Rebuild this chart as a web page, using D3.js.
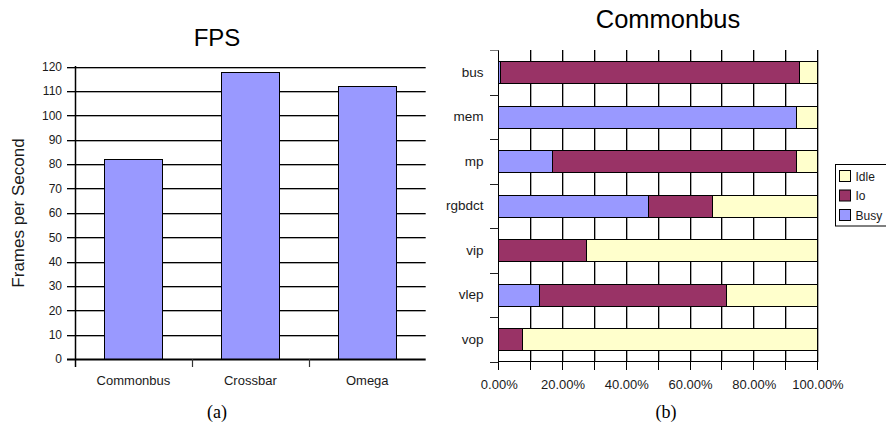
<!DOCTYPE html>
<html>
<head>
<meta charset="utf-8">
<script src="https://cdn.jsdelivr.net/npm/d3@7"></script>
<style>
  body { margin: 0; background: #fff; }
  svg { display: block; font-family: "Liberation Sans", Arial, sans-serif; }
  .domain { display: none; }
</style>
</head>
<body>
<div id="chart"></div>
<script>
// (a) frames per second
const systems = ["Commonbus", "Crossbar", "Omega"];
const fps = [82, 118, 112];
const fpsTicks = [0, 10, 20, 30, 40, 50, 60, 70, 80, 90, 100, 110, 120];

// (b) Commonbus utilisation, percent
const components = ["bus", "mem", "mp", "rgbdct", "vip", "vlep", "vop"];
const busy = [0.6, 93.5, 17.0, 47.0, 0, 12.9, 0];
const io = [93.6, 0, 76.3, 20.0, 27.5, 58.7, 7.5];
const idle = [5.8, 6.5, 6.7, 33.0, 72.5, 28.4, 92.5];
const pctTicks = [0, 20, 40, 60, 80, 100];
const gridTicks = [0, 10, 20, 30, 40, 50, 60, 70, 80, 90, 100];
const keys = ["Busy", "Io", "Idle"];
const colors = {Busy: "#9999ff", Io: "#993366", Idle: "#ffffcc"};

const svg = d3.select("#chart").append("svg")
  .attr("width", 886)
  .attr("height", 425);

const textColor = "#1a1a1a";

// ---------- left chart ----------
const x1 = d3.scaleBand()
  .domain(systems)
  .range([75, 425.7])
  .paddingInner(0.5)
  .paddingOuter(0.25);
const y1 = d3.scaleLinear()
  .domain([0, 120])
  .range([359, 66.7]);

const left = svg.append("g");

// gridlines with a grey shadow
left.selectAll(".gs")
  .data(fpsTicks.slice(1))
  .join("line")
  .attr("x1", 67).attr("x2", 425.7)
  .attr("y1", d => Math.round(y1(d)) + 1.5).attr("y2", d => Math.round(y1(d)) + 1.5)
  .attr("stroke", "#aaa");
left.selectAll(".g")
  .data(fpsTicks.slice(1))
  .join("line")
  .attr("x1", 67).attr("x2", 425.7)
  .attr("y1", d => Math.round(y1(d)) + 0.5).attr("y2", d => Math.round(y1(d)) + 0.5)
  .attr("stroke", "#000");

left.selectAll(".bar")
  .data(systems)
  .join("rect")
  .attr("x", d => Math.round(x1(d)) + 0.5)
  .attr("y", (d, i) => Math.round(y1(fps[i])) + 0.5)
  .attr("width", Math.round(x1.bandwidth()))
  .attr("height", (d, i) => Math.round(y1(0)) - Math.round(y1(fps[i])))
  .attr("fill", "#9999ff")
  .attr("stroke", "#000");

// axes lines
left.append("line")
  .attr("x1", 75.5).attr("x2", 75.5)
  .attr("y1", 66).attr("y2", 367)
  .attr("stroke", "#000").attr("stroke-width", 1.5);
left.append("line")
  .attr("x1", 67).attr("x2", 425.7)
  .attr("y1", 359.5).attr("y2", 359.5)
  .attr("stroke", "#000").attr("stroke-width", 2);
// category boundary ticks
left.selectAll(".xt")
  .data(systems.slice(1))
  .join("line")
  .attr("x1", d => Math.round(x1(d) - x1.step() * 0.25) + 0.5)
  .attr("x2", d => Math.round(x1(d) - x1.step() * 0.25) + 0.5)
  .attr("y1", 359).attr("y2", 367)
  .attr("stroke", "#333").attr("stroke-width", 1.2);

left.append("g")
  .attr("transform", "translate(67,0)")
  .call(d3.axisLeft(y1).tickValues(fpsTicks).tickSize(0).tickPadding(5))
  .call(g => g.selectAll("text")
    .attr("fill", textColor)
    .style("font-size", "12px")
    .style("font-family", "Liberation Sans, Arial, sans-serif"));

left.append("g")
  .attr("transform", "translate(0,359)")
  .call(d3.axisBottom(x1).tickSize(0).tickPadding(17))
  .call(g => g.selectAll("text")
    .attr("fill", textColor)
    .style("font-size", "13px")
    .style("font-family", "Liberation Sans, Arial, sans-serif"));

left.append("text")
  .attr("x", 217).attr("y", 46)
  .attr("text-anchor", "middle")
  .attr("fill", "#000")
  .style("font-size", "24px")
  .text("FPS");

left.append("text")
  .attr("transform", "translate(24,213) rotate(-90)")
  .attr("text-anchor", "middle")
  .attr("fill", textColor)
  .style("font-size", "17px")
  .text("Frames per Second");

left.append("text")
  .attr("x", 217).attr("y", 418)
  .attr("text-anchor", "middle")
  .attr("fill", "#000")
  .style("font-family", "Liberation Serif, Times New Roman, serif")
  .style("font-size", "18px")
  .text("(a)");

// ---------- right chart ----------
const x2 = d3.scaleLinear()
  .domain([0, 100])
  .range([498.3, 817]);
const y2 = d3.scaleBand()
  .domain(components)
  .range([50, 361.7])
  .paddingInner(0.5)
  .paddingOuter(0.25);

const right = svg.append("g");

// vertical grid with shadow
right.selectAll(".vs")
  .data(gridTicks.slice(1))
  .join("line")
  .attr("x1", d => Math.round(x2(d)) + 1.5).attr("x2", d => Math.round(x2(d)) + 1.5)
  .attr("y1", 50).attr("y2", 362)
  .attr("stroke", "#aaa");
right.selectAll(".v")
  .data(gridTicks)
  .join("line")
  .attr("x1", d => Math.round(x2(d)) + 0.5).attr("x2", d => Math.round(x2(d)) + 0.5)
  .attr("y1", 50).attr("y2", 370)
  .attr("stroke", "#000");

// band boundary ticks on the left
const step2 = y2.step();
right.selectAll(".yt")
  .data(components.concat(["end"]))
  .join("line")
  .attr("x1", 490).attr("x2", 498.5)
  .attr("y1", (d, i) => Math.round(50 + i * step2) + 0.5)
  .attr("y2", (d, i) => Math.round(50 + i * step2) + 0.5)
  .attr("stroke", (d, i) => i === 0 ? "#777" : "#222");

right.append("line")
  .attr("x1", 498.3).attr("x2", 817.5)
  .attr("y1", 361.5).attr("y2", 361.5)
  .attr("stroke", "#000");

const table = components.map((c, i) => ({c, Busy: busy[i], Io: io[i], Idle: idle[i]}));
const series = d3.stack().keys(keys)(table);

right.selectAll(".layer")
  .data(series)
  .join("g")
  .attr("fill", d => colors[d.key])
  .selectAll("rect")
  .data(d => d.filter(s => s[1] - s[0] > 0))
  .join("rect")
  .attr("x", d => Math.round(x2(d[0])) + 0.5)
  .attr("y", d => Math.round(y2(d.data.c)) + 0.5)
  .attr("width", d => Math.round(x2(d[1])) - Math.round(x2(d[0])))
  .attr("height", Math.round(y2.bandwidth()))
  .attr("stroke", "#000");

right.append("g")
  .attr("transform", "translate(483.5,0)")
  .call(d3.axisLeft(y2).tickSize(0).tickPadding(0))
  .call(g => g.selectAll("text")
    .attr("fill", textColor)
    .style("font-size", "13.5px")
    .style("font-family", "Liberation Sans, Arial, sans-serif"));

right.append("g")
  .attr("transform", "translate(0.5,361)")
  .call(d3.axisBottom(x2).tickValues(pctTicks).tickSize(0).tickPadding(19)
    .tickFormat(d => d.toFixed(2) + "%"))
  .call(g => g.selectAll("text")
    .attr("fill", textColor)
    .style("font-size", "13px")
    .style("font-family", "Liberation Sans, Arial, sans-serif"));

right.append("text")
  .attr("x", 668).attr("y", 28)
  .attr("text-anchor", "middle")
  .attr("fill", "#000")
  .style("font-size", "25.5px")
  .text("Commonbus");

right.append("text")
  .attr("x", 666).attr("y", 418)
  .attr("text-anchor", "middle")
  .attr("fill", "#000")
  .style("font-family", "Liberation Serif, Times New Roman, serif")
  .style("font-size", "18px")
  .text("(b)");

// legend
const legend = right.append("g");
legend.append("rect")
  .attr("x", 835.5).attr("y", 164.5)
  .attr("width", 60).attr("height", 61.5)
  .attr("fill", "#fff")
  .attr("stroke", "#000");
const legendKeys = keys.slice().reverse();
const li = legend.selectAll(".li")
  .data(legendKeys)
  .join("g")
  .attr("transform", (d, i) => `translate(839.5,${170.5 + i * 19.5})`);
li.append("rect")
  .attr("width", 11).attr("height", 11)
  .attr("fill", d => colors[d])
  .attr("stroke", "#000");
li.append("text")
  .attr("x", 16).attr("y", 6)
  .attr("dy", "0.35em")
  .attr("fill", textColor)
  .style("font-size", "12px")
  .text(d => d);
</script>
</body>
</html>
